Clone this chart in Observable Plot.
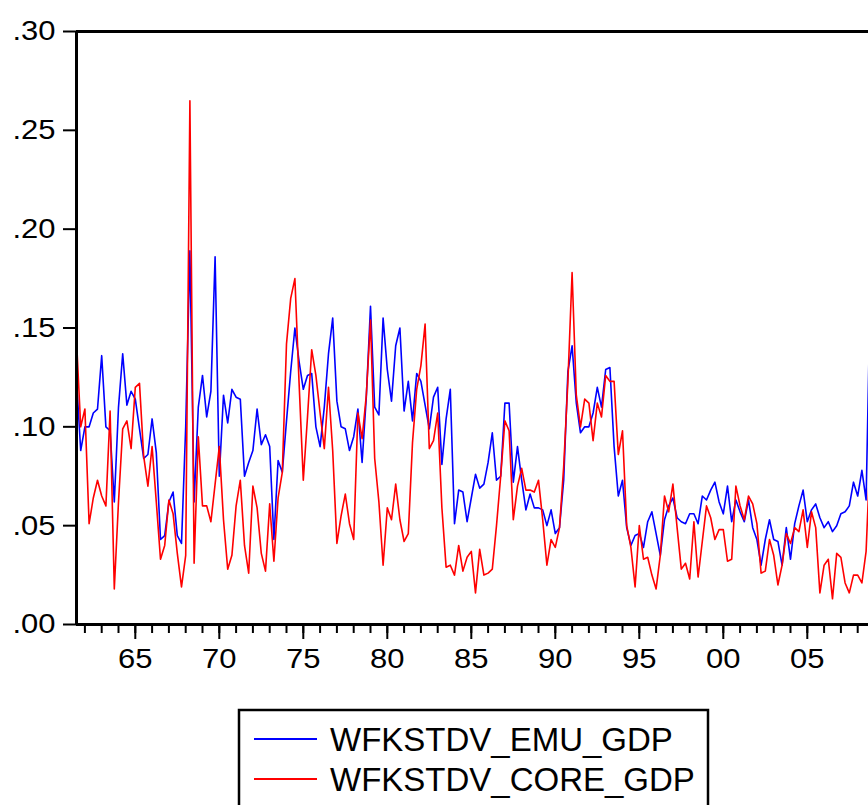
<!DOCTYPE html>
<html><head><meta charset="utf-8">
<script src="https://cdn.jsdelivr.net/npm/d3@7"></script>
<script src="https://cdn.jsdelivr.net/npm/@observablehq/plot@0.6"></script>
<style>
html,body{margin:0;padding:0;background:#fff;overflow:hidden;}
#chart svg,#legend svg{display:block;}
</style></head><body><div id="chart"></div><div id="legend"></div>
<script>
// quarterly observations, first visible quarter starts at 1961.5
const startYear = 1961.5;
const emuGdp = [
0.124,0.088,0.100,0.100,0.107,0.109,0.136,0.100,0.098,0.062,
0.110,0.137,0.111,0.118,0.114,0.099,0.084,0.086,0.104,0.087,
0.043,0.045,0.062,0.067,0.045,0.041,0.100,0.189,0.062,0.110,
0.126,0.105,0.118,0.186,0.075,0.116,0.102,0.119,0.115,0.114,
0.075,0.082,0.088,0.109,0.091,0.096,0.090,0.043,0.083,0.077,
0.103,0.128,0.150,0.133,0.119,0.126,0.127,0.100,0.090,0.110,
0.137,0.155,0.113,0.100,0.099,0.088,0.095,0.109,0.082,0.115,
0.161,0.110,0.106,0.155,0.129,0.113,0.141,0.150,0.108,0.123,
0.103,0.127,0.123,0.111,0.099,0.115,0.120,0.081,0.104,0.119,
0.051,0.068,0.067,0.052,0.064,0.076,0.069,0.071,0.082,0.097,
0.073,0.075,0.112,0.112,0.072,0.090,0.073,0.058,0.066,0.059,
0.059,0.058,0.050,0.058,0.046,0.049,0.073,0.128,0.141,0.112,
0.097,0.100,0.100,0.107,0.120,0.110,0.129,0.130,0.090,0.065,
0.073,0.049,0.040,0.045,0.046,0.039,0.052,0.057,0.046,0.035,
0.053,0.060,0.064,0.054,0.052,0.051,0.056,0.056,0.051,0.065,
0.063,0.068,0.072,0.062,0.056,0.070,0.052,0.063,0.057,0.052,
0.063,0.049,0.043,0.030,0.043,0.053,0.043,0.042,0.030,0.049,
0.033,0.051,0.060,0.068,0.052,0.058,0.061,0.054,0.049,0.052,
0.047,0.050,0.056,0.057,0.060,0.072,0.065,0.078,0.063,0.170
];
const coreGdp = [
0.144,0.100,0.109,0.051,0.064,0.073,0.065,0.060,0.108,0.018,
0.062,0.099,0.103,0.089,0.120,0.122,0.085,0.070,0.090,0.062,
0.033,0.040,0.063,0.056,0.036,0.019,0.035,0.265,0.031,0.095,
0.060,0.060,0.052,0.071,0.090,0.053,0.028,0.035,0.060,0.073,
0.040,0.026,0.070,0.059,0.036,0.027,0.061,0.032,0.064,0.077,
0.142,0.165,0.175,0.122,0.073,0.105,0.139,0.126,0.107,0.089,
0.120,0.088,0.041,0.055,0.066,0.051,0.043,0.107,0.094,0.116,
0.154,0.084,0.062,0.030,0.059,0.053,0.071,0.053,0.042,0.046,
0.092,0.119,0.131,0.152,0.089,0.093,0.107,0.059,0.029,0.030,
0.025,0.040,0.027,0.034,0.037,0.016,0.038,0.025,0.026,0.028,
0.050,0.075,0.103,0.098,0.053,0.070,0.079,0.068,0.068,0.067,
0.073,0.053,0.030,0.043,0.039,0.049,0.080,0.123,0.178,0.116,
0.100,0.114,0.112,0.093,0.112,0.105,0.126,0.123,0.123,0.086,
0.098,0.050,0.039,0.019,0.050,0.033,0.034,0.025,0.018,0.035,
0.065,0.057,0.071,0.049,0.028,0.031,0.023,0.052,0.024,0.042,
0.060,0.054,0.043,0.048,0.048,0.032,0.033,0.070,0.060,0.053,
0.065,0.061,0.051,0.026,0.027,0.043,0.035,0.020,0.030,0.046,
0.041,0.049,0.047,0.058,0.039,0.057,0.049,0.016,0.030,0.033,
0.013,0.036,0.034,0.021,0.016,0.025,0.025,0.021,0.037,0.088
];
const seriesNames = ["WFKSTDV_EMU_GDP", "WFKSTDV_CORE_GDP"];
const seriesColors = ["#0000ff", "#ff0000"];
const yTicks = [0, 0.05, 0.10, 0.15, 0.20, 0.25, 0.30];
const majorYears = [1965, 1970, 1975, 1980, 1985, 1990, 1995, 2000, 2005];
const minorYears = [1962,1963,1964,1965,1966,1967,1968,1969,1970,1971,1972,1973,1974,1975,1976,1977,1978,1979,1980,1981,1982,1983,1984,1985,1986,1987,1988,1989,1990,1991,1992,1993,1994,1995,1996,1997,1998,1999,2000,2001,2002,2003,2004,2005,2006,2007,2008];
const xEnd = 2008.643;

const font = "'Liberation Sans', Arial, Helvetica, sans-serif";
const toRows = (arr, name) => arr.map((v, i) => ({t: startYear + i / 4, v, s: name}));
const emuRows = toRows(emuGdp, seriesNames[0]);
const coreRows = toRows(coreGdp, seriesNames[1]);

const W = 868, H = 700;
const chart = Plot.plot({
  width: W, height: H,
  marginLeft: 76, marginRight: 0, marginTop: 31, marginBottom: 76,
  style: {fontFamily: font, background: "#fff", color: "#000"},
  x: {domain: [startYear, xEnd], label: null},
  y: {domain: [0, 0.30], label: null},
  marks: [
    Plot.axisY({ticks: yTicks, tickSize: 13, tickPadding: 8, strokeWidth: 2,
      tickFormat: d => d.toFixed(2).replace(/^0/, ""), fontSize: 31, label: null}),
    Plot.axisX({ticks: minorYears, tickSize: 9, strokeWidth: 2, tickFormat: () => "", label: null}),
    Plot.axisX({ticks: majorYears, tickSize: 15, tickPadding: 8, strokeWidth: 2,
      tickFormat: y => String(y % 100).padStart(2, "0"), fontSize: 31, label: null}),
    Plot.line(emuRows, {x: "t", y: "v", stroke: seriesColors[0], strokeWidth: 1.6, clip: true}),
    Plot.line(coreRows, {x: "t", y: "v", stroke: seriesColors[1], strokeWidth: 1.6, clip: true}),
    Plot.ruleY([0], {stroke: "#000", strokeWidth: 3}),
    Plot.ruleY([0.30], {stroke: "#000", strokeWidth: 3}),
    Plot.ruleX([startYear], {stroke: "#000", strokeWidth: 3})
  ]
});
document.getElementById("chart").appendChild(chart);

function squash(sel, k) {
  d3.select(chart).selectAll(sel).each(function() {
    const tr = this.getAttribute("transform");
    if (tr) this.setAttribute("transform", tr + ` scale(1,${k})`);
  });
}
squash('g[aria-label="y-axis tick label"] text', 0.9);
squash('g[aria-label="x-axis tick label"] text', 0.92);

// legend below the plot
const leg = d3.select("#legend").append("svg").attr("width", W).attr("height", 105);
leg.append("rect").attr("x", 239).attr("y", 10).attr("width", 469).attr("height", 140)
  .attr("fill", "none").attr("stroke", "#000").attr("stroke-width", 2.5);
seriesNames.forEach((name, i) => {
  const yy = 39 + i * 40;
  leg.append("line").attr("x1", 254).attr("x2", 317).attr("y1", yy).attr("y2", yy)
    .attr("stroke", seriesColors[i]).attr("stroke-width", 2);
  leg.append("text").attr("x", 330).attr("y", yy + 11.5).attr("font-family", font)
    .attr("font-size", 33).attr("fill", "#000").text(name);
});
</script></body></html>
